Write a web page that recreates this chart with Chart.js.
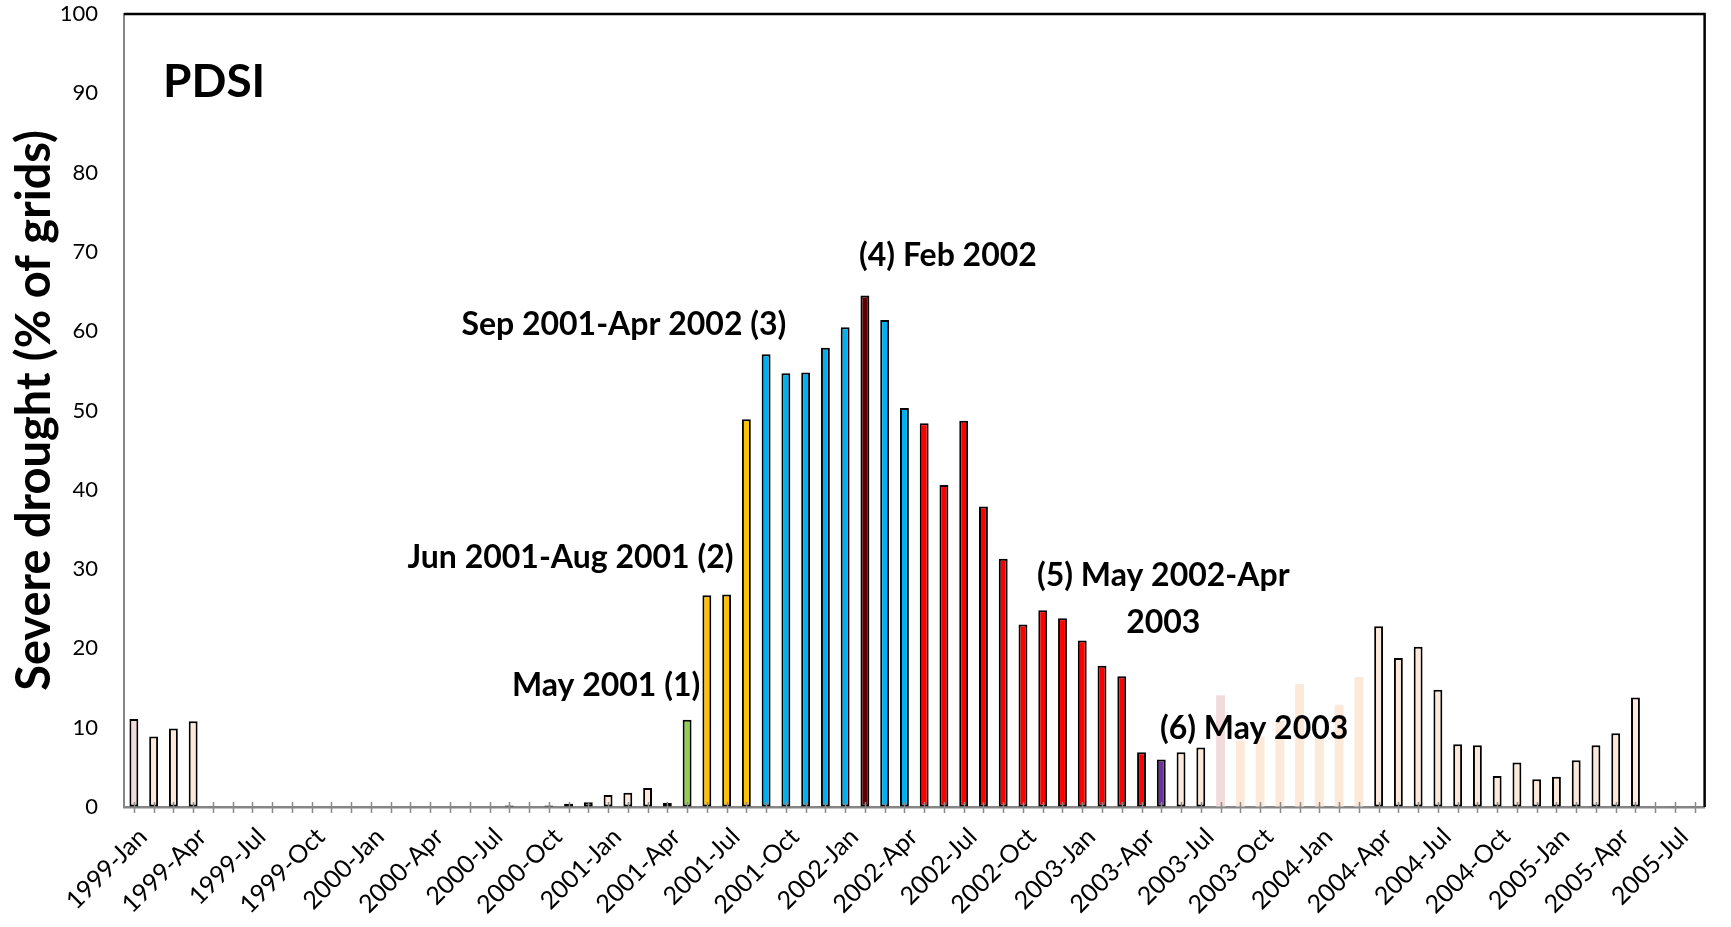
<!DOCTYPE html>
<html>
<head>
<meta charset="utf-8">
<script src="https://cdn.jsdelivr.net/npm/chart.js@4"></script>
<style>
  html, body { margin: 0; padding: 0; background: #fff; }
</style>
</head>
<body>
<canvas id="chart" width="1731" height="927"></canvas>
<script>
// monthly categories
const months = [
  '1999-Jan','1999-Feb','1999-Mar','1999-Apr','1999-May','1999-Jun','1999-Jul','1999-Aug','1999-Sep','1999-Oct','1999-Nov','1999-Dec',
  '2000-Jan','2000-Feb','2000-Mar','2000-Apr','2000-May','2000-Jun','2000-Jul','2000-Aug','2000-Sep','2000-Oct','2000-Nov','2000-Dec',
  '2001-Jan','2001-Feb','2001-Mar','2001-Apr','2001-May','2001-Jun','2001-Jul','2001-Aug','2001-Sep','2001-Oct','2001-Nov','2001-Dec',
  '2002-Jan','2002-Feb','2002-Mar','2002-Apr','2002-May','2002-Jun','2002-Jul','2002-Aug','2002-Sep','2002-Oct','2002-Nov','2002-Dec',
  '2003-Jan','2003-Feb','2003-Mar','2003-Apr','2003-May','2003-Jun','2003-Jul','2003-Aug','2003-Sep','2003-Oct','2003-Nov','2003-Dec',
  '2004-Jan','2004-Feb','2004-Mar','2004-Apr','2004-May','2004-Jun','2004-Jul','2004-Aug','2004-Sep','2004-Oct','2004-Nov','2004-Dec',
  '2005-Jan','2005-Feb','2005-Mar','2005-Apr','2005-May','2005-Jun','2005-Jul','2005-Aug'
];

// severe drought, % of grids
const drought = [
  11.1, 8.9, 9.9, 10.8, 0.1, 0, 0, 0, 0, 0, 0, 0,
  0, 0, 0, 0, 0, 0, 0, 0.2, 0, 0.2, 0.4, 0.6,
  1.5, 1.8, 2.4, 0.5, 11.0, 26.7, 26.8, 48.9, 57.1, 54.7, 54.8, 57.9,
  60.5, 64.5, 61.4, 50.3, 48.4, 40.6, 48.7, 37.9, 31.3, 23.0, 24.8, 23.8,
  21.0, 17.8, 16.5, 6.9, 6.0, 6.9, 7.5, 14.1, 8.4, 8.9, 10.9, 15.5,
  9.0, 12.9, 16.4, 22.8, 18.8, 20.2, 14.8, 7.9, 7.8, 3.9, 5.6, 3.5,
  3.8, 5.9, 7.8, 9.3, 13.8, 0, 0.1, 0.1
];

// drought stage of each month (0 = outside the event)
const stage = [
  0,0,0,0,0,0,0,0,0,0,0,0,
  0,0,0,0,0,0,0,0,0,0,0,0,
  0,0,0,0,1,2,2,2,3,3,3,3,
  3,4,3,3,5,5,5,5,5,5,5,5,
  5,5,5,5,6,0,0,0,0,0,0,0,
  0,0,0,0,0,0,0,0,0,0,0,0,
  0,0,0,0,0,0,0,0
];

const shownTicks = [
  '1999-Jan','1999-Apr','1999-Jul','1999-Oct','2000-Jan','2000-Apr','2000-Jul','2000-Oct',
  '2001-Jan','2001-Apr','2001-Jul','2001-Oct','2002-Jan','2002-Apr','2002-Jul','2002-Oct',
  '2003-Jan','2003-Apr','2003-Jul','2003-Oct','2004-Jan','2004-Apr','2004-Jul','2004-Oct',
  '2005-Jan','2005-Apr','2005-Jul'
];

const pinkMonths = ['1999-Jan', '2003-Aug'];
const faintMonths = ['2003-Aug','2003-Sep','2003-Oct','2003-Nov','2003-Dec','2004-Jan','2004-Feb','2004-Mar'];

const stageColors = ['#FDE9D9', '#92D050', '#FFC000', '#00B0F0', '#600000', '#FF0000', '#7030A0'];

// text labels, placed in data units (category index, % value)
const notes = [
  { text: 'PDSI', x: 1.47, y: 91.4, size: 46, align: 'left' },
  { text: '(4) Feb 2002', x: 41.2, y: 69.5 },
  { text: 'Sep 2001-Apr 2002 (3)', x: 24.8, y: 60.8 },
  { text: 'Jun 2001-Aug 2001 (2)', x: 22.1, y: 31.5 },
  { text: 'May 2001 (1)', x: 23.9, y: 15.3 },
  { text: '(5) May 2002-Apr', x: 52.1, y: 29.2 },
  { text: '2003', x: 52.1, y: 23.3 },
  { text: '(6) May 2003', x: 56.7, y: 9.9 }
];

const FONT = 'Lato, "Open Sans", sans-serif';

const fills = months.map((m, i) => pinkMonths.includes(m) ? '#F2DCDB' : stageColors[stage[i]]);
const borders = months.map(m => faintMonths.includes(m) ? 0 : 2);

const extras = {
  id: 'extras',
  afterDatasetsDraw(chart) {
    const { ctx, chartArea: a, scales: { x, y } } = chart;
    ctx.save();
    // tick marks crossing the x axis
    ctx.strokeStyle = '#8a8a8a';
    ctx.lineWidth = 1.5;
    months.forEach((m, i) => {
      const px = Math.round(x.getPixelForValue(i)) + 0.5;
      ctx.beginPath();
      ctx.moveTo(px, a.bottom - 5);
      ctx.lineTo(px, a.bottom + 6);
      ctx.stroke();
    });
    // top and right frame
    ctx.strokeStyle = '#000';
    ctx.lineWidth = 2.5;
    ctx.beginPath();
    ctx.moveTo(a.left, a.top);
    ctx.lineTo(a.right, a.top);
    ctx.lineTo(a.right, a.bottom);
    ctx.stroke();
    // labels
    ctx.fillStyle = '#000';
    ctx.textBaseline = 'middle';
    notes.forEach(n => {
      ctx.font = 'bold ' + (n.size || 32) + 'px ' + FONT;
      ctx.textAlign = n.align || 'center';
      ctx.fillText(n.text, x.getPixelForValue(n.x), y.getPixelForValue(n.y));
    });
    ctx.restore();
  }
};

new Chart(document.getElementById('chart'), {
  type: 'bar',
  data: {
    labels: months,
    datasets: [{
      data: drought,
      backgroundColor: fills,
      borderColor: '#000',
      borderWidth: borders,
      borderSkipped: false,
      barPercentage: 0.45,
      categoryPercentage: 1
    }]
  },
  options: {
    responsive: false,
    animation: false,
    layout: { autoPadding: false, padding: { top: 14, right: 7, left: 0, bottom: 0 } },
    plugins: { legend: { display: false }, tooltip: { enabled: false } },
    scales: {
      x: {
        grid: { display: false, drawTicks: false },
        border: { display: true, color: '#858585', width: 2.5 },
        ticks: {
          autoSkip: false,
          minRotation: 45,
          maxRotation: 45,
          padding: 15,
          labelOffset: 9,
          color: '#000',
          font: { family: FONT, size: 25 },
          callback: (v, i) => shownTicks.includes(months[i]) ? months[i] : ''
        },
        afterFit: s => { s.height = 120; }
      },
      y: {
        min: 0,
        max: 100,
        ticks: { stepSize: 10, padding: 0, color: '#000', font: { family: FONT, size: 22 } },
        grid: { display: true, drawOnChartArea: false, drawTicks: true, tickLength: 26, color: 'rgba(0,0,0,0)' },
        border: { color: '#858585', width: 2 },
        title: {
          display: true,
          text: 'Severe drought (% of grids)',
          color: '#000',
          font: { family: FONT, size: 47, weight: 'bold', lineHeight: 1 },
          padding: { top: 11, bottom: 0 }
        },
        afterFit: s => { s.width = 124; }
      }
    }
  },
  plugins: [extras]
});
</script>
</body>
</html>
